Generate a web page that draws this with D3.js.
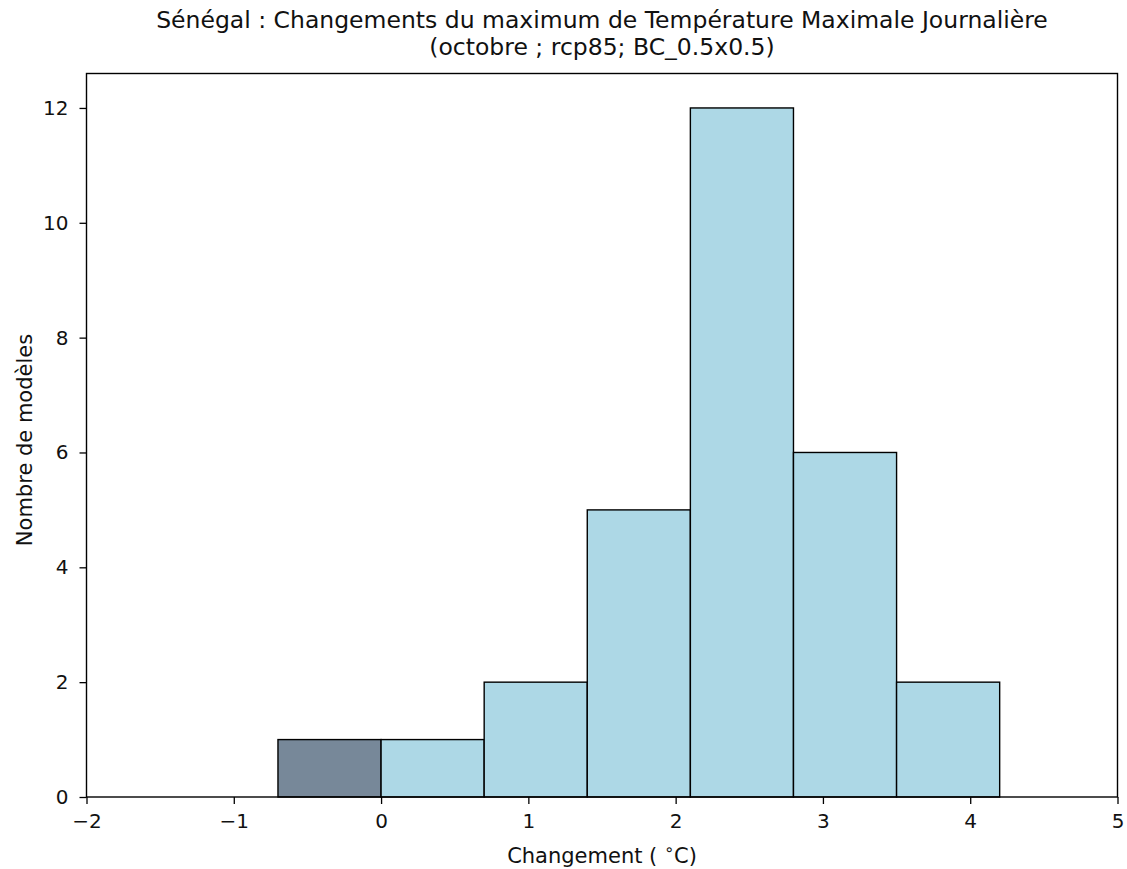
<!DOCTYPE html>
<html><head><meta charset="utf-8">
<script src="https://cdn.jsdelivr.net/npm/d3@7"></script>
<style>body{margin:0;background:#fff;} text{font-family:"DejaVu Sans",sans-serif;fill:#111;}</style>
</head><body>
<svg id="c" width="1127" height="869"></svg>
<script>
const binStarts = [-0.7, 0.0, 0.7, 1.4, 2.1, 2.8, 3.5];
const binEnds   = [0.0, 0.7, 1.4, 2.1, 2.8, 3.5, 4.2];
const counts    = [1, 1, 2, 5, 12, 6, 2];
const barColors = ["#778899", "#add8e6", "#add8e6", "#add8e6", "#add8e6", "#add8e6", "#add8e6"];
const xTicks = [-2, -1, 0, 1, 2, 3, 4, 5];
const yTicks = [0, 2, 4, 6, 8, 10, 12];
const titleLines = ["Sénégal : Changements du maximum de Température Maximale Journalière", "(octobre ; rcp85; BC_0.5x0.5)"];

const L = 86.5, R = 1117.5, T = 73.5, B = 797;
const svg = d3.select("#c");
const x = d3.scaleLinear().domain([-2, 5]).range([L, R]);
const y = d3.scaleLinear().domain([0, 12.6]).range([B, T]);

svg.selectAll("rect.bar").data(counts).enter().append("rect")
  .attr("class","bar")
  .attr("x", (d,i)=>x(binStarts[i]))
  .attr("width", (d,i)=>x(binEnds[i])-x(binStarts[i]))
  .attr("y", d=>y(d))
  .attr("height", d=>y(0)-y(d))
  .attr("fill", (d,i)=>barColors[i])
  .attr("stroke", "#000").attr("stroke-width", 1.4);

const xa = svg.append("g").attr("transform",`translate(0,${B})`)
  .call(d3.axisBottom(x).tickValues(xTicks).tickSize(7).tickPadding(10).tickFormat(d=>d<0?"\u2212"+Math.abs(d):d));
const ya = svg.append("g").attr("transform",`translate(${L},0)`)
  .call(d3.axisLeft(y).tickValues(yTicks).tickSize(7).tickPadding(11));
[xa,ya].forEach(a=>{
  a.attr("font-size",20).attr("font-family","DejaVu Sans");
  a.select(".domain").remove();
  a.selectAll("line").attr("stroke","#000").attr("stroke-width",1.3);
  a.selectAll("text").style("font-size","20px").attr("fill","#111");
});
svg.append("rect").attr("x",L).attr("y",T).attr("width",R-L).attr("height",B-T)
  .attr("fill","none").attr("stroke","#000").attr("stroke-width",1.4);

svg.selectAll("text.title").data(titleLines).enter().append("text")
  .attr("class","title").attr("x",(L+R)/2).attr("y",(d,i)=>28+i*27)
  .attr("text-anchor","middle").style("font-size","23.5px").text(d=>d);

const xl = svg.append("text").attr("x",(L+R)/2).attr("y",863).attr("text-anchor","middle").style("font-size","21px");
xl.append("tspan").text("Changement ( ");
xl.append("tspan").attr("dy",-8).style("font-size","16px").text("\u2218");
xl.append("tspan").attr("dy",8).text("C)");

svg.append("text").attr("transform",`translate(32,440) rotate(-90)`)
  .attr("text-anchor","middle").style("font-size","21px").text("Nombre de modèles");
</script>
</body></html>
